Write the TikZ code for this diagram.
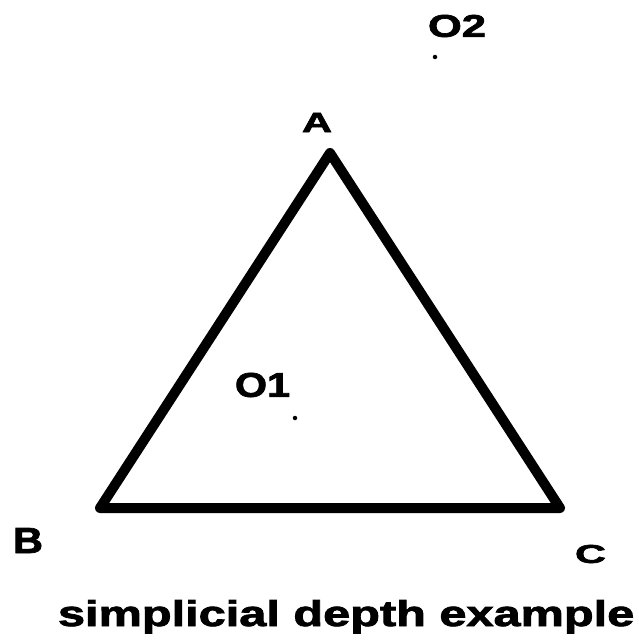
\documentclass[tikz,border=0pt]{standalone}
\usepackage{fontspec}
\usepackage{graphicx}
\setmainfont{Liberation Sans}[BoldFeatures={FakeBold=2}]
\tikzset{
  lbl/.style={inner sep=0pt, outer sep=0pt},
  tri/.style={line width=10pt, line join=round, line cap=round, black},
  pt/.style={circle, fill=black, inner sep=0pt, minimum size=4.5pt},
}
\newcommand{\sized}[3]{\resizebox{#1pt}{#2pt}{\bfseries #3}}
\begin{document}
\begin{tikzpicture}[x=1pt,y=-1pt]
\useasboundingbox[fill=white] (0,0) rectangle (638,642);
\coordinate (A) at (330,153);
\coordinate (B) at (100,508);
\coordinate (C) at (560,508);
\draw[tri] (A) -- (B) -- (C) -- cycle;
\node[lbl] (la) at (317,122.5) {\sized{30}{19}{A}};
\node[lbl] (lb) at (28,540.5) {\sized{30}{25}{B}};
\node[lbl] (lc) at (590.5,554) {\sized{31}{18}{C}};
\node[lbl] (lo1) at (262.5,385) {\sized{55}{24}{O1}};
\node[lbl] (lo2) at (457,26) {\sized{58}{22}{O2}};
\node[pt] (o1) at (295,418) {};
\node[pt] (o2) at (435,57) {};
\node[lbl, anchor=base west] (cap) at (58,626) {\sized{576}{26}{simplicial depth example}};
\end{tikzpicture}
\end{document}
